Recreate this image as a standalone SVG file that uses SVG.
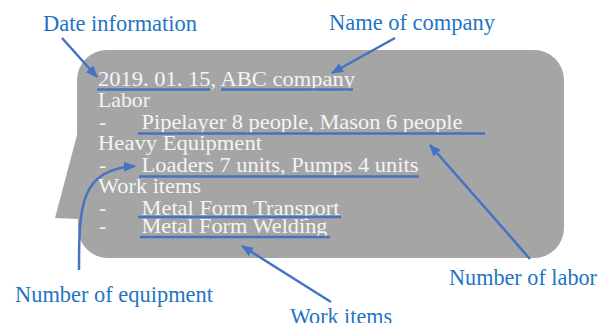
<svg xmlns="http://www.w3.org/2000/svg" width="608" height="323" viewBox="0 0 608 323">
<defs>
<marker id="ah" markerUnits="userSpaceOnUse" markerWidth="12" markerHeight="10" refX="11" refY="5" orient="auto">
<path d="M0,0 L12,5 L0,10 z" fill="#4472c4"/>
</marker>
<style>
.body{font-family:"Liberation Serif","Times New Roman",serif;font-size:21.5px;fill:#f4f4f4}
.lbl{font-family:"Liberation Serif","Times New Roman",serif;font-size:23px;fill:#1f74c4}
.ul{stroke:#4472c4;stroke-width:2.5;fill:none}
.arr{stroke:#4472c4;stroke-width:2.5;fill:none;marker-end:url(#ah)}
</style>
</defs>
<rect width="608" height="323" fill="#ffffff"/>
<g id="callout">
<path d="M107,50 H534 A30,30 0 0 1 564,80 V228 A30,30 0 0 1 534,258 H108 A30,30 0 0 1 78,228 V219 L55,218 L77,135 V80 A30,30 0 0 1 107,50 Z" fill="#a5a5a5"/>
<text class="body" x="98" y="86" textLength="257" lengthAdjust="spacingAndGlyphs">2019. 01. 15, ABC company</text>
<text class="body" x="98" y="107" textLength="52" lengthAdjust="spacingAndGlyphs">Labor</text>
<text class="body" x="99" y="128.5">-</text>
<text class="body" x="141.5" y="128.5" textLength="321" lengthAdjust="spacingAndGlyphs">Pipelayer 8 people, Mason 6 people</text>
<text class="body" x="98" y="150" textLength="164" lengthAdjust="spacingAndGlyphs">Heavy Equipment</text>
<text class="body" x="99" y="171.5">-</text>
<text class="body" x="141.5" y="171.5" textLength="277" lengthAdjust="spacingAndGlyphs">Loaders 7 units, Pumps 4 units</text>
<text class="body" x="98" y="193" textLength="103" lengthAdjust="spacingAndGlyphs">Work items</text>
<text class="body" x="99" y="214.5">-</text>
<text class="body" x="141.5" y="214.5" textLength="198" lengthAdjust="spacingAndGlyphs">Metal Form Transport</text>
<text class="body" x="99" y="232.5">-</text>
<text class="body" x="141.5" y="232.5" textLength="186" lengthAdjust="spacingAndGlyphs">Metal Form Welding</text>
</g>
<g id="underlines">
<line class="ul" x1="97" y1="89.5" x2="210" y2="89.5"/>
<line class="ul" x1="221" y1="89.5" x2="353" y2="89.5"/>
<line class="ul" x1="138" y1="133.5" x2="485" y2="133.5"/>
<line class="ul" x1="139" y1="176.5" x2="419" y2="176.5"/>
<line class="ul" x1="138" y1="217" x2="341" y2="217"/>
<line class="ul" x1="140" y1="237" x2="330" y2="237"/>
</g>
<g id="labels">
<text id="lbl-date" class="lbl" x="43" y="31" textLength="154" lengthAdjust="spacingAndGlyphs">Date information</text>
<text id="lbl-company" class="lbl" x="329" y="30" textLength="166" lengthAdjust="spacingAndGlyphs">Name of company</text>
<text id="lbl-equipment" class="lbl" x="15" y="302" textLength="198" lengthAdjust="spacingAndGlyphs">Number of equipment</text>
<text id="lbl-labor" class="lbl" x="449" y="285" textLength="148" lengthAdjust="spacingAndGlyphs">Number of labor</text>
<text id="lbl-work" class="lbl" x="290" y="324" textLength="102" lengthAdjust="spacingAndGlyphs">Work items</text>
</g>
<g id="connectors">
<line class="arr" x1="62" y1="38" x2="97" y2="77"/>
<line class="arr" x1="395" y1="38" x2="332" y2="73"/>
<line class="arr" x1="530" y1="259" x2="430" y2="145"/>
<line class="arr" x1="331" y1="302" x2="242" y2="246"/>
<path class="arr" d="M79,270 C79,205 80,170 135,166"/>
</g>
</svg>
